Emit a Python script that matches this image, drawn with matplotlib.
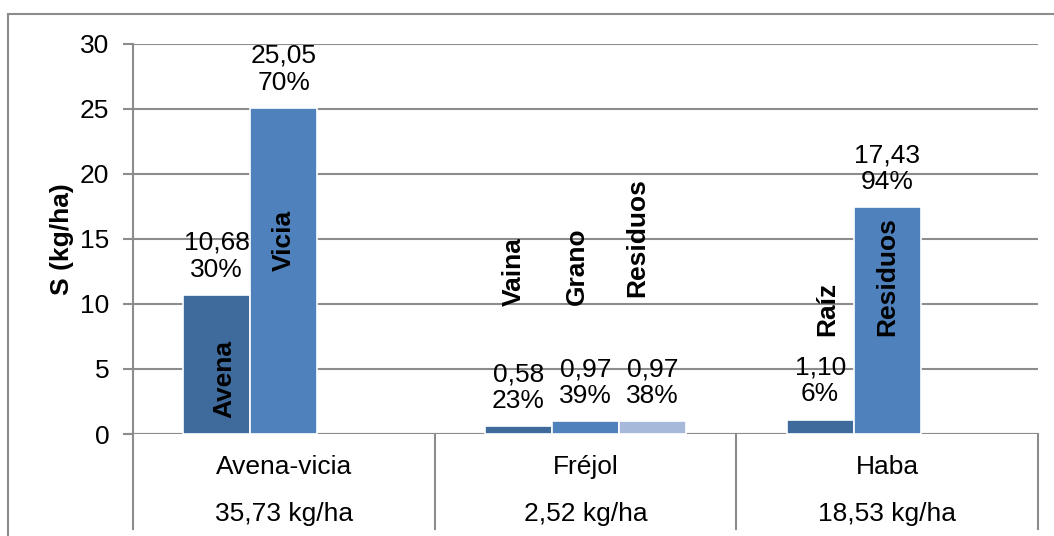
import matplotlib
matplotlib.use("Agg")
import matplotlib.pyplot as plt
from matplotlib.lines import Line2D
import numpy as np

plt.rcParams['font.family'] = ['Liberation Sans', 'DejaVu Sans']

# crops and their totals (shown in the table under the axis)
groups = ["Avena-vicia", "Fréjol", "Haba"]
totals = ["35,73 kg/ha", "2,52 kg/ha", "18,53 kg/ha"]

# components per crop: names, S in kg/ha, share of the total in %
parts = [["Avena", "Vicia"], ["Vaina", "Grano", "Residuos"], ["Raíz", "Residuos"]]
values = [[10.68, 25.05], [0.58, 0.97, 0.97], [1.10, 17.43]]
shares = [[30, 70], [23, 39, 38], [6, 94]]

colors = ["#3f6a9c", "#4f81bd", "#a7b9da"]
# where each rotated component name sits: (x shift, y, vertical alignment)
name_pos = [[(0.025, 1.2, "bottom"), (0.0, 17.2, "top")],
            [(-0.015, 9.8, "bottom"), (-0.03, 9.9, "bottom"), (-0.05, 10.5, "bottom")],
            [(0.025, 7.5, "bottom"), (0.0, 7.5, "bottom")]]

fs = 19
slot = 1 / 4.5

fig = plt.figure(figsize=(10.54, 5.36), dpi=100)
ax = fig.add_axes([133 / 1054, (536 - 434) / 536, (1038 - 133) / 1054, (434 - 43.5) / 536])

for g in range(len(groups)):
    n = len(values[g])
    for k in range(n):
        x = g + (k - 1) * slot
        v = values[g][k]
        ax.bar(x, v, width=slot, color=colors[k], edgecolor="white", linewidth=1.2, zorder=3)
        label = f"{v:.2f}".replace(".", ",") + f"\n{shares[g][k]}%"
        ax.annotate(label, (x, v), xytext=(0, 9.5), textcoords="offset points",
                    ha="center", va="bottom", fontsize=fs, linespacing=1.15, zorder=4)
        dx, y, va = name_pos[g][k]
        ax.text(x + dx, y, parts[g][k], rotation=90, ha="center", va=va,
                fontsize=fs, fontweight="bold", zorder=5)

ax.set_xlim(-0.5, 2.5)
ax.set_ylim(0, 30)
ax.set_yticks(np.arange(0, 31, 5))
ax.set_xticks([])
ax.yaxis.grid(True, color="#8c8c8c", linewidth=1.5)
ax.set_axisbelow(True)
for s in ["top", "right", "bottom"]:
    ax.spines[s].set_visible(False)
ax.spines["left"].set_color("#8c8c8c")
ax.spines["left"].set_linewidth(1.5)
ax.tick_params(axis="y", length=7, width=1.5, color="#8c8c8c", labelsize=fs, pad=10)
ax.axhline(0, color="#8c8c8c", linewidth=1.5, zorder=2)
ax.plot([-0.5 - 7 / 301.7, -0.5], [0, 0], color="#8c8c8c", lw=1.5, clip_on=False)
ax.set_ylabel("S (kg/ha)", fontsize=fs, fontweight="bold", labelpad=4)

# category table under the axis
for xb in [-0.5, 0.5, 1.5, 2.5]:
    ax.plot([xb, xb], [0, -7.3], color="#8c8c8c", lw=1.5, clip_on=False)
for g in range(len(groups)):
    ax.text(g, -2.55, groups[g], ha="center", va="center", fontsize=fs, clip_on=False)
    ax.text(g, -6.15, totals[g], ha="center", va="center", fontsize=fs, clip_on=False)

# chart frame
fig.add_artist(Line2D([8 / 1054, 8 / 1054], [0, (536 - 14) / 536], color="#8c8c8c", lw=1.5))
fig.add_artist(Line2D([8 / 1054, 1], [(536 - 14) / 536] * 2, color="#8c8c8c", lw=1.5))

fig.savefig("out.png", dpi=100)
